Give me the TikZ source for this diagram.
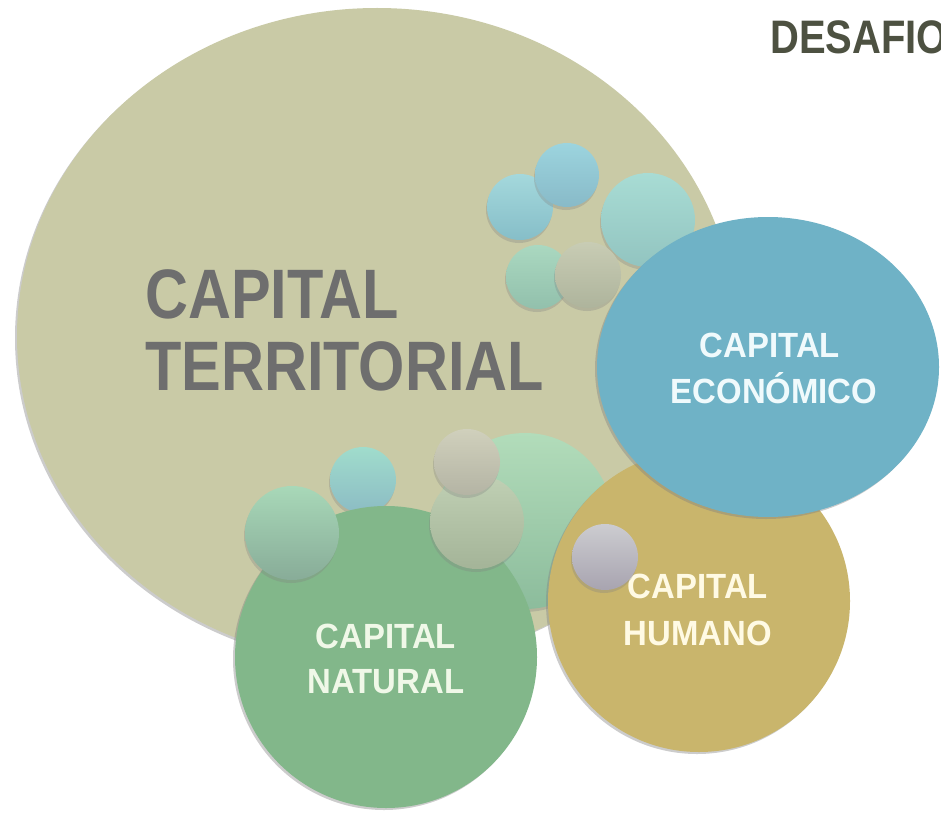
\documentclass[tikz,border=0pt]{standalone}
\usepackage{fontspec}
\setmainfont{Liberation Sans}
\newfontfamily\bigfont{Liberation Sans}[FakeStretch=0.85]
\newfontfamily\lblfont{Liberation Sans}[FakeStretch=0.94]
\usetikzlibrary{shadows}
\definecolor{terr}{HTML}{C9CAA6}
\definecolor{econ}{HTML}{6FB2C6}
\definecolor{huma}{HTML}{C9B56C}
\definecolor{natu}{HTML}{82B78A}
\definecolor{terrtext}{HTML}{6E6E6E}
\definecolor{desafio}{HTML}{4D5141}
\definecolor{econtext}{HTML}{F0FAFC}
\definecolor{natutext}{HTML}{F0F8E8}
\definecolor{humatext}{HTML}{FFFAE4}
\begin{document}
\begin{tikzpicture}[x=1pt,y=-1pt,
  disc/.style={drop shadow={shadow xshift=-2pt,shadow yshift=-2pt,opacity=0.4}},
  ballstyle/.style={drop shadow={shadow xshift=-1pt,shadow yshift=-3pt,opacity=0.3}},
  lbl/.style={inner sep=0pt, anchor=base, text=#1, font=\lblfont\bfseries\fontsize{35}{40}\selectfont},
  biglbl/.style={inner sep=0pt, anchor=base west, text=#1, font=\bigfont\bfseries\fontsize{70}{80}\selectfont}
]
\useasboundingbox (0,0) rectangle (941,813);
\fill[white] (0,0) rectangle (941,813);

% big territorial ellipse
\fill[terr, disc] (377,336) ellipse [x radius=360pt, y radius=328pt];

% top cluster of balls
\shade[ballstyle, top color={rgb,255:red,164;green,216;blue,220}, bottom color={rgb,255:red,134;green,190;blue,200}] (520,207) circle (33pt);
\shade[ballstyle, top color={rgb,255:red,156;green,212;blue,222}, bottom color={rgb,255:red,136;green,186;blue,200}] (567,175) circle (32pt);
\shade[ballstyle, top color={rgb,255:red,168;green,220;blue,212}, bottom color={rgb,255:red,146;green,196;blue,192}] (648,220) circle (47pt);
\shade[ballstyle, top color={rgb,255:red,170;green,216;blue,192}, bottom color={rgb,255:red,146;green,192;blue,172}] (538,277) circle (32pt);
\shade[ballstyle, top color={rgb,255:red,200;green,204;blue,180}, bottom color={rgb,255:red,174;green,180;blue,156}] (588,275) circle (33pt);

% mint circle behind natural
\shade[ballstyle, top color={rgb,255:red,178;green,220;blue,186}, bottom color={rgb,255:red,140;green,188;blue,156}] (525,521) circle (88pt);

% aqua ball behind green
\shade[ballstyle, top color={rgb,255:red,160;green,220;blue,204}, bottom color={rgb,255:red,140;green,188;blue,196}] (363,480) circle (33pt);

% natural
\fill[natu, disc] (386,657) circle (151pt);

\shade[ballstyle, top color={rgb,255:red,168;green,216;blue,184}, bottom color={rgb,255:red,136;green,172;blue,152}] (292,533) circle (47pt);
\shade[ballstyle, top color={rgb,255:red,192;green,208;blue,180}, bottom color={rgb,255:red,164;green,180;blue,152}] (477,522) circle (47pt);
\shade[ballstyle, top color={rgb,255:red,208;green,208;blue,188}, bottom color={rgb,255:red,180;green,180;blue,164}] (467,462) circle (33pt);

% humano
\fill[huma, disc] (699,601) circle (151pt);

% economico
\fill[econ, disc] (768,367) ellipse [x radius=171pt, y radius=150pt];

% labels
\node[biglbl=terrtext] (terr1) at (145,318) {CAPITAL};
\node[biglbl=terrtext] (terr2) at (145,390) {TERRITORIAL};

\node[lbl=econtext] (eco1) at (770,357) {CAPITAL};
\node[lbl=econtext] (eco2) at (774,403) {ECONÓMICO};

\node[lbl=natutext] (nat1) at (386,648) {CAPITAL};
\node[lbl=natutext] (nat2) at (386,693) {NATURAL};

\node[lbl=humatext] (hum1) at (698,598) {CAPITAL};
\node[lbl=humatext] (hum2) at (698,645) {HUMANO};

% ball over humano text
\shade[ballstyle, top color={rgb,255:red,204;green,204;blue,208}, bottom color={rgb,255:red,168;green,164;blue,176}] (605,557) circle (33pt);

\node[inner sep=0pt, anchor=base west, text=desafio, font=\bigfont\bfseries\fontsize{47}{50}\selectfont] (des) at (770,54) {DESAFIO};
\end{tikzpicture}
\end{document}
